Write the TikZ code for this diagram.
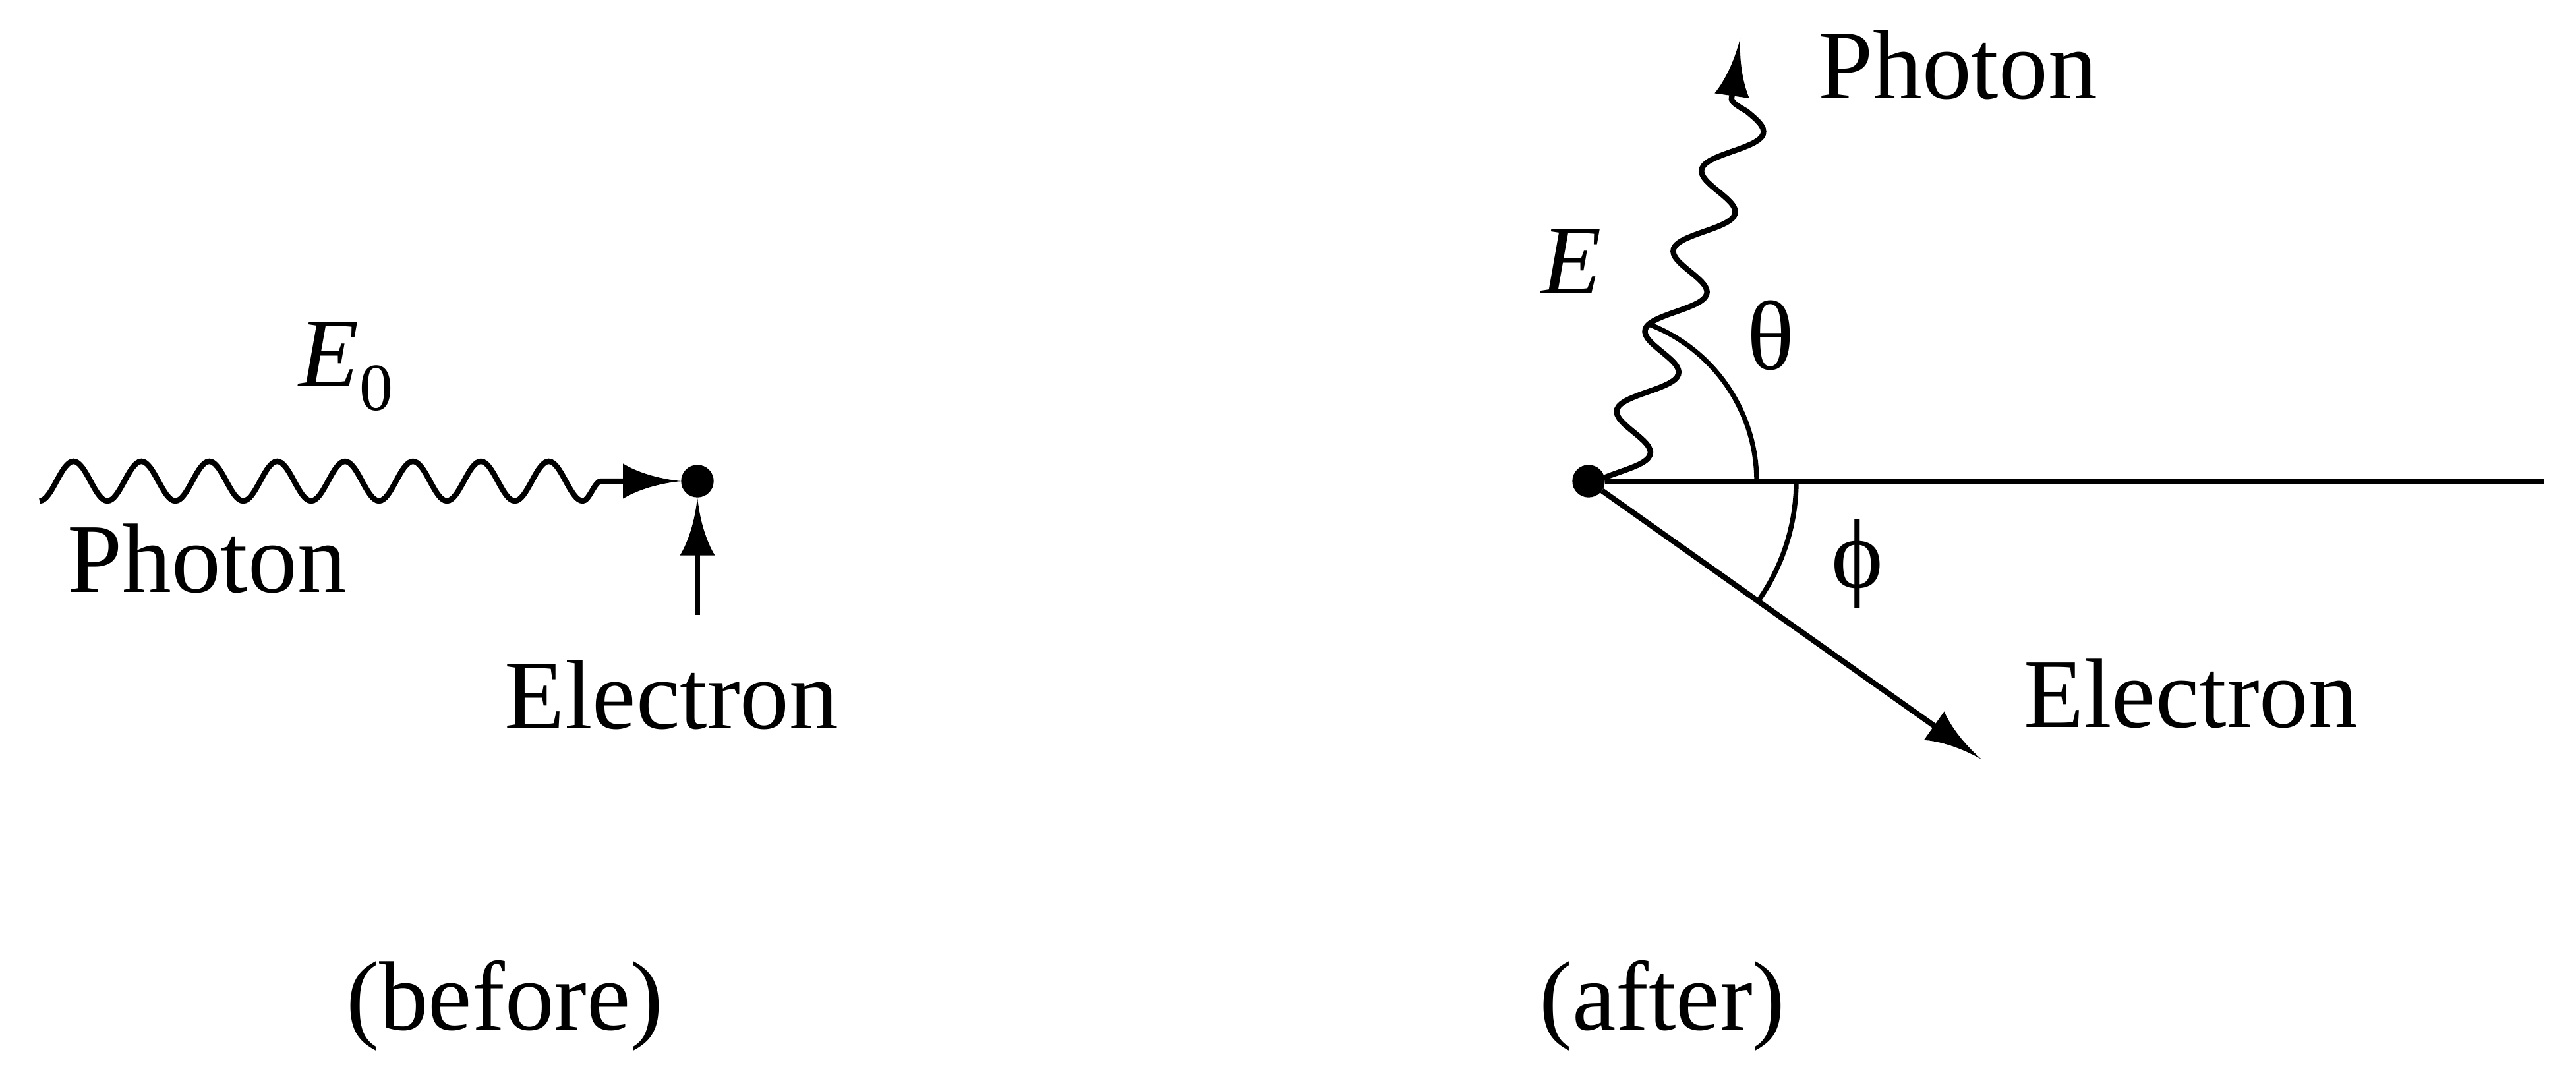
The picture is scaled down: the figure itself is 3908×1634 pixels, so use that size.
\documentclass[tikz,border=0pt]{standalone}
\usepackage{fontspec}
\setmainfont{Liberation Serif}
\usetikzlibrary{arrows.meta,positioning}
% arrow head with hollow sides
\pgfdeclarearrow{
  name = Barb,
  parameters = {\the\pgfarrowlength,\the\pgfarrowwidth},
  setup code = {
    \pgfarrowssettipend{0pt}
    \pgfarrowssetlineend{-.9\pgfarrowlength}
    \pgfarrowssetbackend{-\pgfarrowlength}
    \pgfarrowssetvisualbackend{-\pgfarrowlength}
    \pgfarrowshullpoint{0pt}{0pt}
    \pgfarrowshullpoint{-\pgfarrowlength}{.5\pgfarrowwidth}
    \pgfarrowshullpoint{-\pgfarrowlength}{-.5\pgfarrowwidth}
    \pgfarrowssavethe\pgfarrowlength
    \pgfarrowssavethe\pgfarrowwidth
  },
  drawing code = {
    \pgfpathmoveto{\pgfpointorigin}
    \pgfpathcurveto{\pgfqpoint{-.4\pgfarrowlength}{.07\pgfarrowwidth}}{\pgfqpoint{-.75\pgfarrowlength}{.25\pgfarrowwidth}}{\pgfqpoint{-\pgfarrowlength}{.5\pgfarrowwidth}}
    \pgfpathlineto{\pgfqpoint{-\pgfarrowlength}{-.5\pgfarrowwidth}}
    \pgfpathcurveto{\pgfqpoint{-.75\pgfarrowlength}{-.25\pgfarrowwidth}}{\pgfqpoint{-.4\pgfarrowlength}{-.07\pgfarrowwidth}}{\pgfpointorigin}
    \pgfpathclose
    \pgfusepathqfill
  },
  defaults = {length=0.88cm, width=0.53cm}
}
\tikzset{
txt/.style = {font=\fontsize{42.5pt}{50pt}\selectfont, inner sep=0pt, anchor=base},
particle/.style = {draw, fill, circle, inner sep=0pt, minimum size=0.48cm},
wave/.style = {line width=2.4pt},
track/.style = {line width=2.4pt},
arcline/.style = {line width=2.1pt}
}
\begin{document}
\begin{tikzpicture}[x=0.01cm, y=0.01cm, >={Barb}]
  \useasboundingbox (0,0) rectangle (3908,1634);
  % before
  \node [particle]            (dot1)   at (1058,904) {};
  \coordinate                 (ph1)    at (60,874);
  \coordinate                 (el1)    at (1058,701);
  \node [txt]                 (e0)     at (525,1047) {\textit{E}\raisebox{-0.24em}{\fontsize{29pt}{29pt}\selectfont 0}};
  \node [txt]                 (ph1txt) at (314,735) {Photon};
  \node [txt]                 (el1txt) at (1019,528) {Electron};
  \node [txt]                 (before) at (766,71) {(before)};

  \draw [wave,->] (ph1) \foreach \i in {1,...,8} {cos ++(25.75,30) sin ++(25.75,30) cos ++(25.75,-30) sin ++(25.75,-30)} cos ++(14,15) sin ++(14,15) -- (dot1);
  \draw [track,->] (el1) -- (dot1);

  % after
  \node [particle]            (dot2)   at (2410,904) {};
  \coordinate                 (hor)    at (3860,904);
  \coordinate                 (el2)    at (3006,482);
  \coordinate                 (ph2)    at (2640,1576);
  \node [txt]                 (ph2txt) at (2970,1484) {Photon};
  \node [txt]                 (etxt)   at (2384,1188) {\textit{E}};
  \node [txt]                 (theta)  at (2686,1073) {θ};
  \node [txt]                 (phi)    at (2818,742) {ϕ};
  \node [txt]                 (el2txt) at (3324,530) {Electron};
  \node [txt]                 (after)  at (2522,71) {(after)};

  \draw [track] (dot2) -- (hor);
  \draw [track,->] (dot2) -- (el2);
  \draw [arcline] ([shift={(0:255)}]dot2.center) arc [start angle=0, end angle=69, radius=255];
  \draw [arcline] ([shift={(0:315)}]dot2.center) arc [start angle=0, end angle=-35, radius=315];
  \begin{scope}[cm={0.3325,0.9431,-0.9926,0.1214,(dot2)}]
    \draw [wave,->] (-12.5,-4.5) \foreach \i in {1,...,4} {cos ++(32.25,-36) sin ++(32.25,-36) cos ++(32.25,36) sin ++(32.25,36)} cos ++(32.25,-36) sin ++(32.25,-36) cos ++(32.25,36) sin ++(18.25,29) -- (ph2);
  \end{scope}
\end{tikzpicture}
\end{document}
